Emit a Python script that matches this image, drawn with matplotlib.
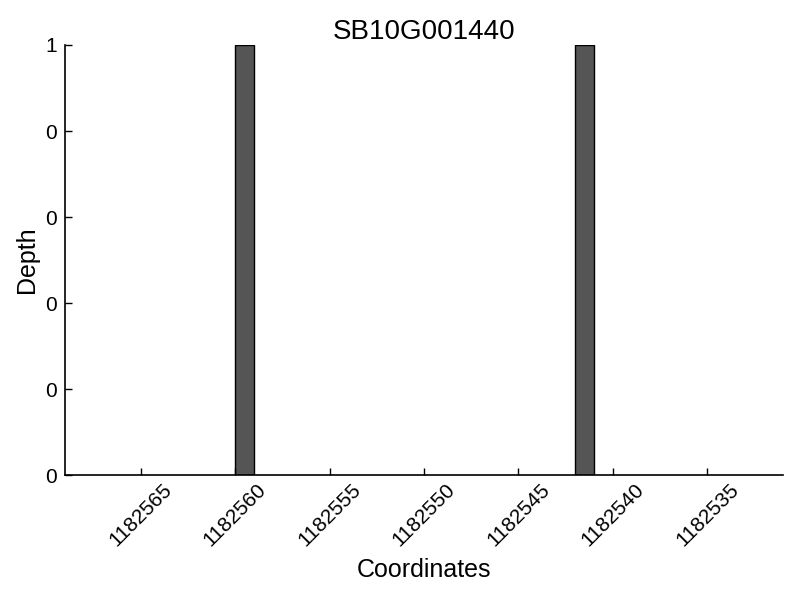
import matplotlib
matplotlib.use("Agg")
import matplotlib.pyplot as plt
from matplotlib.ticker import FormatStrFormatter

# depth per coordinate (only covered positions are non-zero)
coords = [1182559, 1182541]
depth = [1, 1]
xticks = [1182565, 1182560, 1182555, 1182550, 1182545, 1182540, 1182535]
gene = 'SB10G001440'

plt.rcParams['font.family'] = ['Liberation Sans', 'DejaVu Sans']

fig = plt.figure(figsize=(8, 6), dpi=100)
ax = fig.add_axes([0.08125, 0.2083, 0.8975, 0.7167])

ax.bar(coords, depth, width=1, align='edge', color='#555555', edgecolor='black', linewidth=1)

ax.set_xlim(1182569, 1182531)
ax.set_ylim(0, 1)
ax.set_xticks(xticks)
ax.set_xticklabels([str(x) for x in xticks], rotation=45, fontsize=15)
ax.set_yticks([0, 0.2, 0.4, 0.6, 0.8, 1.0])
ax.yaxis.set_major_formatter(FormatStrFormatter('%d'))
ax.tick_params(axis='y', labelsize=15, pad=6)
ax.tick_params(direction='in', length=5, width=1, top=False, right=False)

ax.spines['top'].set_visible(False)
ax.spines['right'].set_visible(False)
ax.spines['left'].set_linewidth(1.2)
ax.spines['bottom'].set_linewidth(1.2)

ax.set_title(gene, fontsize=20, pad=4)
ax.set_xlabel('Coordinates', fontsize=18, labelpad=6)
ax.set_ylabel('Depth', fontsize=18, labelpad=4)

fig.savefig('out.png', dpi=100)
